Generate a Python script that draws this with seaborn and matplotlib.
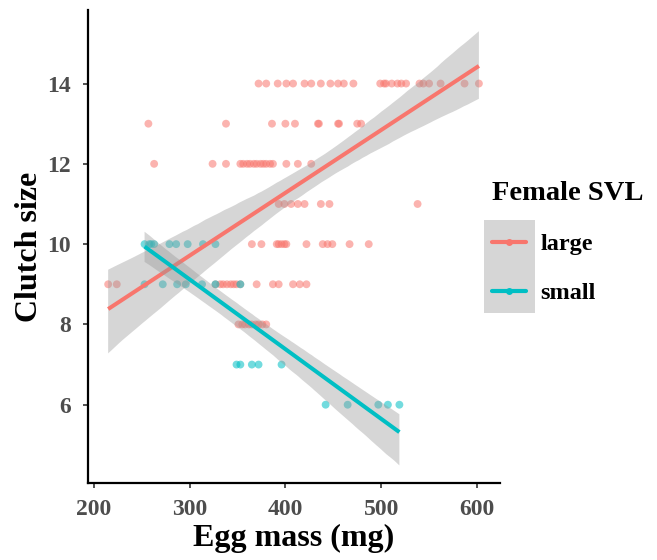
import numpy as np
import pandas as pd
import seaborn as sns
import matplotlib.pyplot as plt
from matplotlib.lines import Line2D
from matplotlib.patches import Rectangle
from matplotlib.collections import PolyCollection

# ---- data ----
large_mass = [
    # clutch 14
    372, 380, 392, 401, 408, 420, 427, 437, 447, 455, 461, 471,
    499, 503, 505, 511, 517, 521, 526, 540, 544, 550, 562, 587, 602,
    # clutch 13
    257, 338, 386, 400, 410, 434, 435, 455, 456, 475, 479,
    # clutch 12
    263, 324, 338, 353, 356, 360, 363, 367, 370, 374, 377, 380, 384, 387,
    401, 413, 427,
    # clutch 11
    393, 399, 406, 413, 420, 437, 446, 538,
    # clutch 10
    365, 375, 391, 393, 396, 399, 401, 422, 439, 444, 449, 467, 487,
    # clutch 9
    215, 224, 327, 332, 335, 339, 343, 346, 349, 353, 370, 387, 393,
    408, 415, 422,
    # clutch 8
    351, 355, 358, 362, 365, 369, 372, 376, 380,
]
large_clutch = ([14] * 25 + [13] * 11 + [12] * 17 + [11] * 8 +
                [10] * 13 + [9] * 16 + [8] * 9)

small_mass = [
    # clutch 10
    253, 258, 260, 263, 279, 286, 298, 314, 327,
    # clutch 9
    253, 272, 287, 296, 313, 327, 353,
    # clutch 7
    349, 353, 365, 372, 396,
    # clutch 6
    442, 465, 497, 507, 519,
]
small_clutch = [10] * 9 + [9] * 7 + [7] * 5 + [6] * 5

groups = ["large", "small"]
palette = {"large": "#F8766D", "small": "#00BFC4"}
x_ticks = [200, 300, 400, 500, 600]
y_ticks = [6, 8, 10, 12, 14]

df = pd.DataFrame({
    "mass": large_mass + small_mass,
    "clutch": large_clutch + small_clutch,
    "svl": ["large"] * len(large_mass) + ["small"] * len(small_mass),
})

# ---- style ----
sns.set_theme(style="white")
plt.rcParams['font.family'] = ['Liberation Serif', 'DejaVu Serif']
plt.rcParams['text.color'] = 'black'

fig = plt.figure(figsize=(6.57, 5.60), dpi=100)
ax = fig.add_axes([0.134, 0.1375, 0.627, 0.8445])

sns.scatterplot(data=df, x="mass", y="clutch", hue="svl", palette=palette,
                s=32, alpha=0.55, edgecolor="none", legend=False, ax=ax,
                zorder=2)

z = 2.5
for g in groups:
    sub = df[df.svl == g]
    n_before = len(ax.collections)
    sns.regplot(data=sub, x="mass", y="clutch", scatter=False, ci=95,
                n_boot=2000, seed=3, color=palette[g], ax=ax,
                line_kws=dict(lw=2.9, zorder=z + 0.1, solid_capstyle="butt"))
    for c in ax.collections[n_before:]:
        if isinstance(c, PolyCollection):
            c.set_facecolor("#999999")
            c.set_alpha(0.4)
            c.set_edgecolor("none")
            c.set_zorder(z)
    z += 0.2

ax.set_xlim(194, 624)
ax.set_ylim(4.05, 15.83)
ax.set_xticks(x_ticks)
ax.set_yticks(y_ticks)
ax.set_xlabel("Egg mass (mg)", fontsize=23, fontweight="bold", color="black",
              labelpad=3)
ax.set_ylabel("Clutch size", fontsize=23, fontweight="bold", color="black",
              labelpad=2)
ax.tick_params(axis="both", which="major", labelsize=17, colors="#333333",
               length=3.6, width=1.2, direction="out", bottom=True, left=True,
               labelcolor="#4D4D4D")
ax.tick_params(axis="x", pad=8)
ax.tick_params(axis="y", pad=9)
for lab in ax.get_xticklabels() + ax.get_yticklabels():
    lab.set_fontweight("bold")

sns.despine(ax=ax)
for s in ["left", "bottom"]:
    ax.spines[s].set_color("black")
    ax.spines[s].set_linewidth(1.6)

# ---- legend ----
handles = [Line2D([], [], color=palette[g], lw=3.0, marker="o", markersize=5,
                  markeredgecolor="none") for g in groups]
leg = fig.legend(handles, groups,
                 loc="upper left", bbox_to_anchor=(492 / 657, 1 - 181 / 560),
                 frameon=False, title="Female SVL",
                 prop=dict(size=17.5, weight="bold"),
                 title_fontproperties=dict(size=20.5, weight="bold"),
                 handlelength=1.4, labelspacing=1.12,
                 handletextpad=0.6, borderpad=0, borderaxespad=0,
                 alignment="left", labelcolor="black")
leg.get_title().set_color("black")

# grey key background spanning both keys (as ggplot draws it)
fig.canvas.draw()
inv = fig.transFigure.inverted()
exts = [h.get_window_extent() for h in leg.legend_handles]
cy = [0.5 * (e.y0 + e.y1) for e in exts]
x0 = min(e.x0 for e in exts) - 5
x1 = max(e.x1 for e in exts) + 5
pitch = abs(cy[0] - cy[1])
y_top = max(cy) + pitch / 2 - 3
y_bot = min(cy) - pitch / 2 + 3
(fx0, fy0) = inv.transform((x0, y_bot))
(fx1, fy1) = inv.transform((x1, y_top))
fig.add_artist(Rectangle((fx0, fy0), fx1 - fx0, fy1 - fy0,
                         transform=fig.transFigure, facecolor="#D6D6D6",
                         edgecolor="none", zorder=4))

fig.savefig("out.png", dpi=100)
